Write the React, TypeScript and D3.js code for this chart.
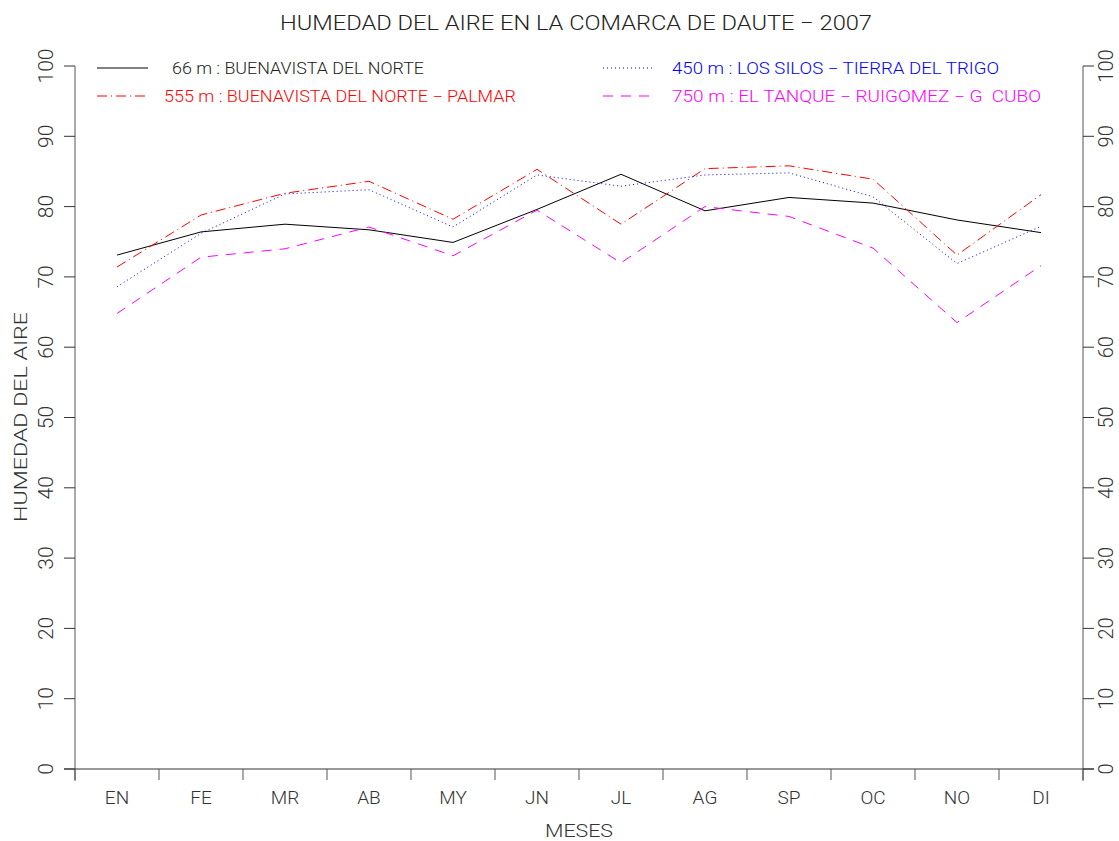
import React from "react";
import * as d3 from "d3";

const months = ["EN", "FE", "MR", "AB", "MY", "JN", "JL", "AG", "SP", "OC", "NO", "DI"];
const yTicks = [0, 10, 20, 30, 40, 50, 60, 70, 80, 90, 100];

const s66 = [73.1, 76.4, 77.5, 76.7, 74.9, 79.6, 84.6, 79.4, 81.3, 80.5, 78.1, 76.3];
const s450 = [68.6, 76.2, 81.8, 82.4, 77.1, 84.5, 82.9, 84.5, 84.8, 81.4, 71.9, 77.2];
const s555 = [71.4, 78.8, 81.9, 83.6, 78.2, 85.3, 77.5, 85.4, 85.8, 83.9, 73.1, 81.7];
const s750 = [64.8, 72.8, 74.0, 77.1, 73.0, 79.5, 72.0, 80.0, 78.6, 74.1, 63.5, 71.6];

const seriesNames = [
  "66 m : BUENAVISTA DEL NORTE",
  "555 m : BUENAVISTA DEL NORTE \u2212 PALMAR",
  "450 m : LOS SILOS \u2212 TIERRA DEL TRIGO",
  "750 m : EL TANQUE \u2212 RUIGOMEZ \u2212 G\u00a0 CUBO",
];

const FONT = "Roboto, 'DejaVu Sans', sans-serif";

export default function App() {
  const W = 1119, H = 841;
  const left = 75, right = 1083, top = 66, bottom = 769;
  const x = d3.scaleBand<string>().domain(months).range([left, right]);
  const y = d3.scaleLinear().domain([0, 100]).range([bottom, top]);
  const line = d3.line<number>()
    .x((_, i) => (x(months[i]) as number) + x.bandwidth() / 2)
    .y((d) => y(d));

  const series = [
    { data: s66, color: "#000000", dash: "none", name: seriesNames[0], lx: 97, ly: 68, tx: 172, tw: 252 },
    { data: s555, color: "#ff0000", dash: "10,4,1,4", name: seriesNames[1], lx: 97, ly: 96, tx: 164, tw: 352 },
    { data: s450, color: "#0000ff", dash: "1,3", name: seriesNames[2], lx: 603, ly: 68, tx: 672, tw: 327 },
    { data: s750, color: "#ff00ff", dash: "10,8", name: seriesNames[3], lx: 603, ly: 96, tx: 672, tw: 369 },
  ];

  const axisColor = "#555";
  const xTickPos = d3.range(months.length + 1).map((i) => left + i * x.bandwidth());

  return (
    <svg width={W} height={H} style={{ position: "absolute", left: 0, top: 0, background: "#fff" }}>
      <rect x={0} y={0} width={W} height={H} fill="#fff" />
      <text x={576} y={30} textAnchor="middle" fontFamily={FONT} fontWeight={300} fontSize={21}
        fill="#222" textLength={592} lengthAdjust="spacingAndGlyphs">
        HUMEDAD DEL AIRE EN LA COMARCA DE DAUTE {"\u2212"} 2007
      </text>

      {/* axes */}
      <line x1={left} y1={top} x2={left} y2={781} stroke={axisColor} strokeWidth={1} />
      <line x1={right} y1={top} x2={right} y2={781} stroke={axisColor} strokeWidth={1} />
      <line x1={64} y1={bottom} x2={1094} y2={bottom} stroke="#333" strokeWidth={1} />
      {yTicks.map((t) => (
        <g key={t}>
          <line x1={64} x2={left} y1={y(t)} y2={y(t)} stroke="#333" />
          <line x1={right} x2={1094} y1={y(t)} y2={y(t)} stroke="#333" />
          <text transform={`translate(53,${y(t)}) rotate(-90)`} textAnchor="middle" fontFamily={FONT}
            fontWeight={300} fontSize={21} fill="#333">{t}</text>
          <text transform={`translate(1113,${y(t)}) rotate(-90)`} textAnchor="middle" fontFamily={FONT}
            fontWeight={300} fontSize={20} fill="#333">{t}</text>
        </g>
      ))}
      {xTickPos.map((p, i) => (
        <line key={i} x1={p} x2={p} y1={bottom} y2={780} stroke={axisColor} />
      ))}
      {months.map((m) => (
        <text key={m} x={(x(m) as number) + x.bandwidth() / 2} y={804} textAnchor="middle" fontFamily={FONT}
          fontWeight={300} fontSize={19} fill="#333">{m}</text>
      ))}
      <text x={579} y={837} textAnchor="middle" fontFamily={FONT} fontWeight={300} fontSize={18} fill="#333"
        textLength={68} lengthAdjust="spacingAndGlyphs">MESES</text>
      <text transform={`translate(27,417) rotate(-90)`} textAnchor="middle" fontFamily={FONT} fontWeight={300}
        fontSize={19} fill="#333" textLength={210} lengthAdjust="spacingAndGlyphs">HUMEDAD DEL AIRE</text>

      {/* series */}
      {series.map((s, i) => (
        <path key={i} d={line(s.data) || ""} fill="none" stroke={s.color} strokeWidth={1}
          strokeDasharray={s.dash} />
      ))}

      {/* legend */}
      {series.map((s, i) => (
        <g key={"l" + i}>
          <line x1={s.lx} x2={s.lx + 51} y1={s.ly} y2={s.ly} stroke={s.color} strokeDasharray={s.dash} />
          <text x={s.tx} y={s.ly + 6} fontFamily={FONT} fontWeight={300} fontSize={16} fill={s.color === "#000000" ? "#222" : s.color}
            textLength={s.tw} lengthAdjust="spacingAndGlyphs">{s.name}</text>
        </g>
      ))}
    </svg>
  );
}
